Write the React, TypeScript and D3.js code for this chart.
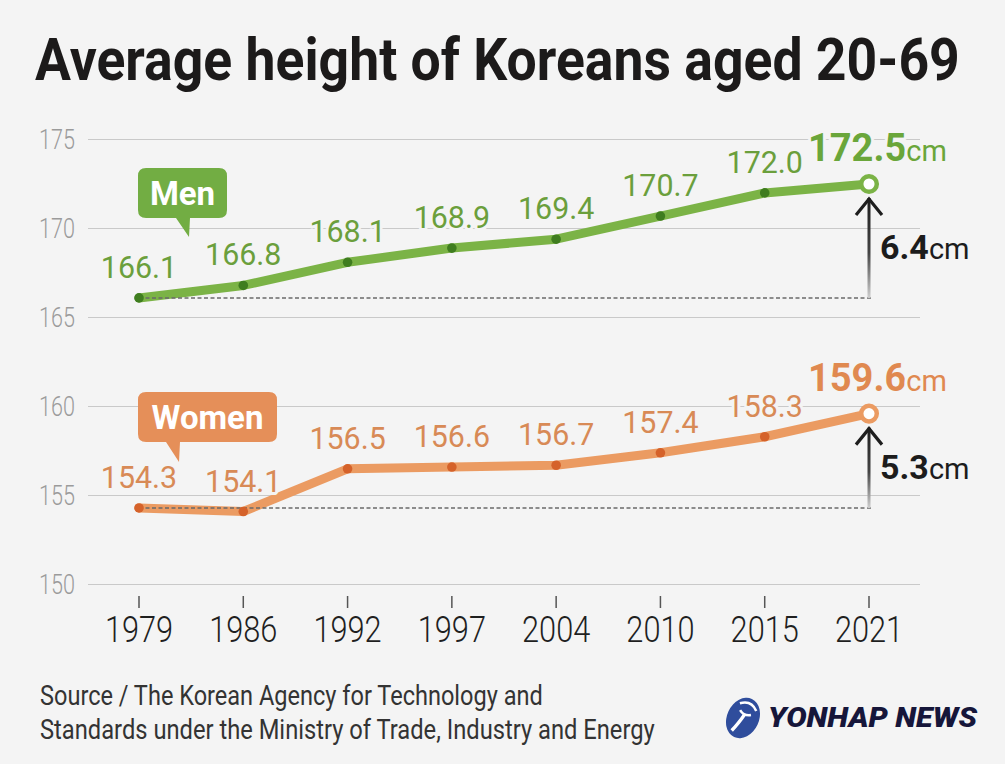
import React, { useLayoutEffect, useRef } from "react";
import * as d3 from "d3";

const years = ["1979", "1986", "1992", "1997", "2004", "2010", "2015", "2021"];
const menValues = [166.1, 166.8, 168.1, 168.9, 169.4, 170.7, 172.0, 172.5];
const womenValues = [154.3, 154.1, 156.5, 156.6, 156.7, 157.4, 158.3, 159.6];
const yTicks = [150, 155, 160, 165, 170, 175];
const seriesNames = ["Men", "Women"];
const titleText = "Average height of Koreans aged 20-69";
const sourceLines = [
  "Source / The Korean Agency for Technology and",
  "Standards under the Ministry of Trade, Industry and Energy",
];

const W = 1005;
const H = 764;
const BG = "#f4f4f4";
const FONT = "Roboto, 'Noto Sans', sans-serif";

const styles = [
  { line: "#7bb346", dot: "#3f7d1f", label: "#6b9f3c", box: "#72ad43", big: "#6aa63a" },
  { line: "#eb9b62", dot: "#d5622a", label: "#d88a56", box: "#e58f59", big: "#e08950" },
];

export default function App() {
  const svgRef = useRef<SVGSVGElement>(null);

  useLayoutEffect(() => {
    const svg = svgRef.current;
    if (!svg) return;
    svg.querySelectorAll<SVGTextElement>("text[data-fit]").forEach((el) => {
      const target = parseFloat(el.getAttribute("data-fit") || "0");
      const x0 = parseFloat(el.getAttribute("data-x") || "0");
      const y0 = parseFloat(el.getAttribute("data-y") || "0");
      el.removeAttribute("transform");
      const len = el.getComputedTextLength();
      const s = len > 0 ? target / len : 1;
      el.setAttribute("transform", `translate(${x0},${y0}) scale(${s},1)`);
    });
  }, []);

  const x = d3.scalePoint<string>().domain(years).range([139, 869]);
  const y = d3.scaleLinear().domain([150, 175]).range([584.5, 139.5]);
  const line = d3
    .line<number>()
    .x((_, i) => x(years[i]) as number)
    .y((d) => y(d))
    .curve(d3.curveLinear);

  const all = [menValues, womenValues];
  const lastX = x(years[years.length - 1]) as number;
  const firstX = x(years[0]) as number;

  const bubbles = [
    { x0: firstX - 1, y0: 168, w: 89, h: 50, tailX: 190, tailLeft: 176, tailY: 237 },
    { x0: firstX - 1, y0: 392, w: 139, h: 50, tailX: 180, tailLeft: 166, tailY: 462 },
  ];

  return (
    <svg
      ref={svgRef}
      width={W}
      height={H}
      viewBox={`0 0 ${W} ${H}`}
      style={{ position: "absolute", left: 0, top: 0, display: "block" }}
      fontFamily={FONT}
    >
      <defs>
        <linearGradient id="arrowGrad" x1="0" y1="0" x2="0" y2="1">
          <stop offset="0%" stopColor="#1e1e1e" />
          <stop offset="55%" stopColor="#444" />
          <stop offset="100%" stopColor="#cfcfcf" />
        </linearGradient>
      </defs>
      <rect x={0} y={0} width={W} height={H} fill={BG} />

      {/* Title */}
      <text
        data-fit={925}
        data-x={35}
        data-y={80}
        transform="translate(35,80) scale(0.86,1)"
        fontSize={59}
        fontWeight={700}
        fill="#1c1a1a"
      >
        {titleText}
      </text>

      {/* grid lines */}
      {yTicks.map((t) => (
        <g key={t}>
          <line x1={88} x2={920} y1={y(t)} y2={y(t)} stroke="#c9c9c9" strokeWidth={1.2} />
          <text
            transform={`translate(75,${y(t) + 9.5}) scale(0.8,1)`}
            textAnchor="end"
            fontSize={27}
            fontWeight={300}
            fill="#9b9b9b"
          >
            {t}
          </text>
        </g>
      ))}

      {/* x ticks */}
      {years.map((yr) => (
        <g key={yr}>
          <line
            x1={x(yr) as number}
            x2={x(yr) as number}
            y1={596}
            y2={608}
            stroke="#555"
            strokeWidth={1.5}
          />
          <text
            transform={`translate(${x(yr)},${641.5}) scale(0.82,1)`}
            textAnchor="middle"
            fontSize={37.5}
            fontWeight={300}
            fill="#1f1f1f"
          >
            {yr}
          </text>
        </g>
      ))}

      {/* series */}
      {all.map((vals, si) => {
        const st = styles[si];
        const last = vals[vals.length - 1];
        const first = vals[0];
        const cy = y(last);
        const baseY = y(first);
        const diff = (last - first).toFixed(1);
        const mid = (cy + baseY) / 2;
        const b = bubbles[si];
        return (
          <g key={si}>
            <path
              d={line(vals) || ""}
              fill="none"
              stroke={st.line}
              strokeWidth={9}
              strokeLinejoin="round"
              strokeLinecap="round"
            />
            <line
              x1={firstX}
              x2={lastX + 2}
              y1={baseY}
              y2={baseY}
              stroke="#6a6a6a"
              strokeWidth={1.5}
              strokeDasharray="4,2.5"
            />
            {vals.slice(0, -1).map((v, i) => (
              <circle key={i} cx={x(years[i]) as number} cy={y(v)} r={4.8} fill={st.dot} />
            ))}
            {vals.slice(0, -1).map((v, i) => (
              <text
                key={"l" + i}
                transform={`translate(${x(years[i])},${y(v) - 20}) scale(0.95,1)`}
                textAnchor="middle"
                fontSize={32}
                fill={st.label}
                stroke={BG}
                strokeWidth={6}
                paintOrder="stroke"
                strokeLinejoin="round"
              >
                {v.toFixed(1)}
              </text>
            ))}
            <circle cx={lastX} cy={cy} r={7.8} fill="#fff" stroke={st.line} strokeWidth={4.5} />
            <text
              x={lastX - 61}
              y={cy - 23}
              fill={st.big}
              stroke={BG}
              strokeWidth={6}
              paintOrder="stroke"
              strokeLinejoin="round"
            >
              <tspan fontSize={38} fontWeight={700}>
                {last.toFixed(1)}
              </tspan>
              <tspan fontSize={29} fontWeight={400}>
                cm
              </tspan>
            </text>
            <rect x={lastX - 1.5} y={cy + 14} width={3} height={baseY - cy - 14} fill="url(#arrowGrad)" />
            <path
              d={`M${lastX - 13},${cy + 31} L${lastX},${cy + 15} L${lastX + 13},${cy + 31}`}
              fill="none"
              stroke="#1e1e1e"
              strokeWidth={3.2}
            />
            <text x={lastX + 11} y={mid + 18} fill="#1c1c1c">
              <tspan fontSize={34} fontWeight={700}>
                {diff}
              </tspan>
              <tspan fontSize={29} fontWeight={400}>
                cm
              </tspan>
            </text>
            <path
              d={`M${b.x0 + 8},${b.y0} H${b.x0 + b.w - 8} Q${b.x0 + b.w},${b.y0} ${b.x0 + b.w},${b.y0 + 8} V${
                b.y0 + b.h - 8
              } Q${b.x0 + b.w},${b.y0 + b.h} ${b.x0 + b.w - 8},${b.y0 + b.h} H${b.tailX} L${b.tailX - 1},${b.tailY} L${
                b.tailLeft
              },${b.y0 + b.h} H${b.x0 + 8} Q${b.x0},${b.y0 + b.h} ${b.x0},${b.y0 + b.h - 8} V${b.y0 + 8} Q${b.x0},${
                b.y0
              } ${b.x0 + 8},${b.y0} Z`}
              fill={st.box}
            />
            <text
              x={b.x0 + b.w / 2}
              y={b.y0 + 37}
              textAnchor="middle"
              fontSize={33}
              fontWeight={700}
              fill="#ffffff"
            >
              {seriesNames[si]}
            </text>
          </g>
        );
      })}

      {/* source */}
      {sourceLines.map((s, i) => (
        <text
          key={i}
          data-fit={i === 0 ? 503 : 615}
          data-x={40}
          data-y={705 + i * 33.5}
          transform={`translate(40,${705 + i * 33.5}) scale(0.92,1)`}
          fontSize={28}
          fontWeight={400}
          fill="#333333"
        >
          {s}
        </text>
      ))}

      {/* logo */}
      <g transform="translate(743,718) rotate(25)">
        <ellipse cx={0} cy={0} rx={16} ry={21} fill="#2f4d9c" />
        <path d="M-9,-12 Q0,-20 9,-12" fill="none" stroke="#fff" strokeWidth={2.5} />
        <path d="M-6,-6 Q0,-2 6,-6" fill="none" stroke="#fff" strokeWidth={2.5} />
        <path d="M0,-4 Q-2,8 -5,16" fill="none" stroke="#fff" strokeWidth={3.5} />
      </g>
      <text
        data-fit={209}
        data-x={768}
        data-y={727}
        transform="translate(768,727) scale(0.95,1)"
        fontSize={27}
        fontWeight={900}
        fontStyle="italic"
        fill="#16163a"
      >
        YONHAP NEWS
      </text>
    </svg>
  );
}
